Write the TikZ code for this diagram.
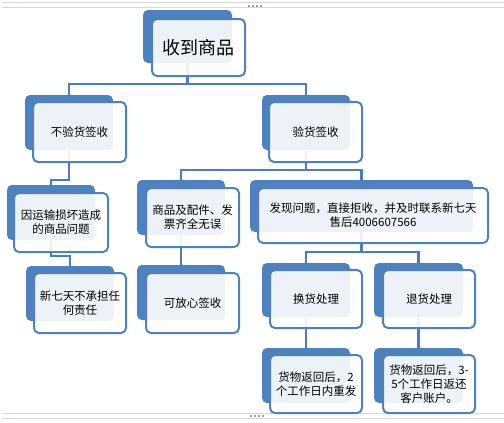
\documentclass[tikz,border=0pt]{standalone}
\usepackage{fontspec}
\setmainfont{Noto Sans CJK SC}
\definecolor{sablue}{HTML}{4F81BD}
\definecolor{salink}{HTML}{4A7EBB}
\definecolor{frameclr}{HTML}{D3DADD}
\definecolor{dotclr}{HTML}{9AA4AA}
\pgfdeclarelayer{background}
\pgfdeclarelayer{fore}
\pgfsetlayers{background,main,fore}
\tikzset{
  backbox/.style={fill=sablue, rounded corners=5pt, inner sep=0pt},
  frontbox/.style={draw=sablue, line width=2pt, fill=white, fill opacity=0.9, text opacity=1,
    rounded corners=5pt, align=center, inner sep=0pt, font=\fontsize{11.5}{14}\selectfont},
  link/.style={draw=salink, line width=2.5pt},
  frameline/.style={draw=frameclr, line width=1pt},
}
\newcommand\backpanel[5]{%
  \node[backbox, minimum width={#4-#2}, minimum height={#5-#3}] (#1) at ({(#2+#4)/2},{(#3+#5)/2}) {};}
\newcommand\frontpanel[7][]{%
  \begin{pgfonlayer}{fore}
  \node[frontbox, minimum width={#5-#3}, minimum height={#6-#4}, #1] (#2) at ({(#3+#5)/2},{(#4+#6)/2}) {#7};
  \end{pgfonlayer}}
\begin{document}
\begin{tikzpicture}[x=1pt,y=-1pt]
\useasboundingbox (0,0) rectangle (504,423);
% frame lines
\draw[frameline] (2,2.5) -- (504,2.5);
\draw[frameline] (2,7.5) -- (504,7.5);
\draw[frameline] (2,413) -- (504,413);
\draw[frameline] (2,418) -- (504,418);
\foreach \i in {0,1,2,3} {
  \fill[dotclr] ({248+\i*4},4.5) rectangle ++(2,2);
  \fill[dotclr] ({250+\i*4},415) rectangle ++(2,2);
}
% back panels
\backpanel{root}{143}{10}{232}{63}
\backpanel{L1}{25}{95}{113}{150}
\backpanel{R1}{262}{95}{350}{150}
\backpanel{L2}{7}{185}{95}{240}
\backpanel{L3}{26}{266}{114}{321}
\backpanel{M2}{137}{180}{225}{235}
\backpanel{M3}{137}{265}{225}{320}
\backpanel{W}{250}{180}{473}{232}
\backpanel{E1}{262}{263}{350}{317}
\backpanel{E2}{374}{263}{463}{317}
\backpanel{E3}{262}{348}{350}{403}
\backpanel{E4}{374}{348}{463}{403}
% front panels
\frontpanel[font=\fontsize{18}{20}\selectfont]{rootF}{152}{19}{245}{76}{收到商品}
\frontpanel{L1F}{33}{102}{126}{162}{不验货签收}
\frontpanel{R1F}{269}{102}{362}{162}{验货签收}
\frontpanel{L2F}{14}{193}{108}{252}{因运输损坏造成\\的商品问题}
\frontpanel{L3F}{34}{273}{126}{333}{新七天不承担任\\何责任}
\frontpanel{M2F}{146}{188}{239}{247}{商品及配件、发\\票齐全无误}
\frontpanel{M3F}{146}{273}{239}{333}{可放心签收}
\frontpanel{WF}{258}{188}{488}{243}{发现问题，直接拒收，并及时联系新七天\\售后4006607566}
\frontpanel{E1F}{270}{270}{362}{328}{换货处理}
\frontpanel{E2F}{383}{270}{475}{328}{退货处理}
\frontpanel{E3F}{270}{355}{362}{413}{货物返回后，2\\个工作日内重发}
\frontpanel{E4F}{383}{355}{475}{413}{货物返回后，3-\\5个工作日返还\\客户账户。}
% connectors
\begin{pgfonlayer}{background}
\draw[link] (root.south) -- ++(0,21) -| (L1.north);
\draw[link] (root.south) -- ++(0,21) -| (R1.north);
\draw[link] (L1.south) -- ++(0,30) -| (L2.north);
\draw[link] (L2.south) -- ++(0,16) -| (L3.north);
\draw[link] (R1.south) -- ++(0,20) -| (M2.north);
\draw[link] (R1.south) -- ++(0,20) -| (W.north);
\draw[link] (M2.south) -- (M3.north);
\draw[link] (W.south) -- ++(0,20) -| (E1.north);
\draw[link] (W.south) -- ++(0,20) -| (E2.north);
\draw[link] (E1.south) -- (E3.north);
\draw[link] (E2.south) -- (E4.north);
\end{pgfonlayer}
\end{tikzpicture}
\end{document}
